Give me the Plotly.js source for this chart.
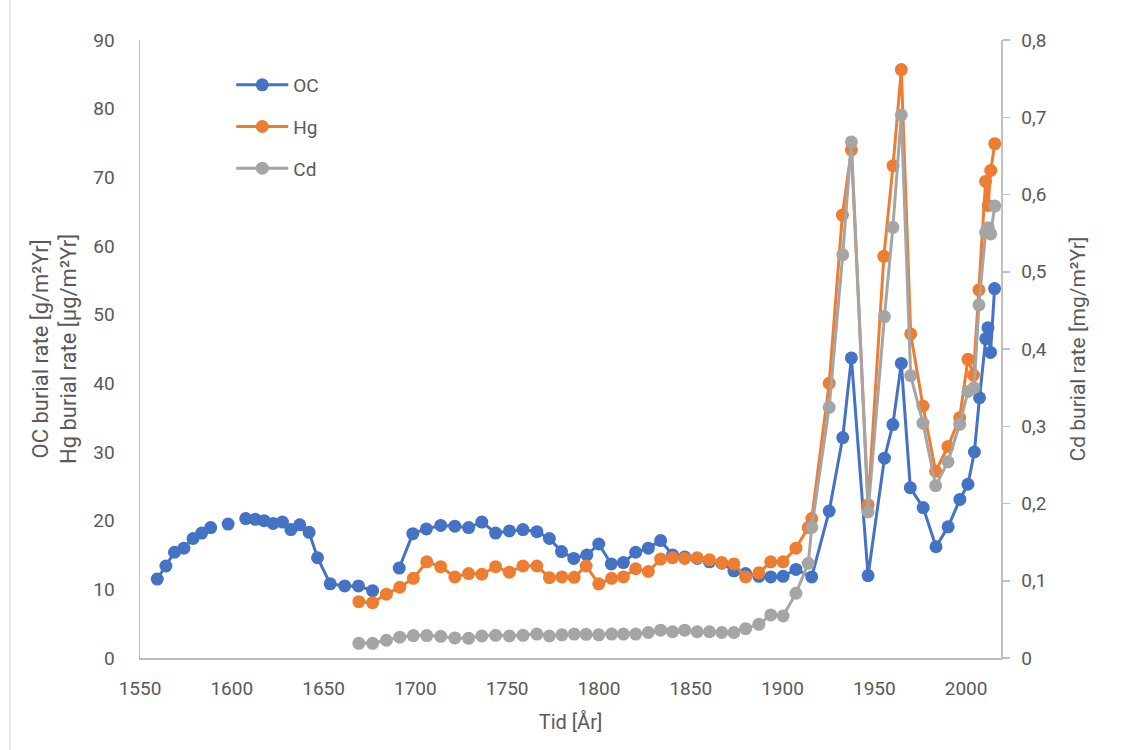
<!DOCTYPE html>
<html>
<head>
<meta charset="utf-8">
<script src="https://cdn.plot.ly/plotly-3.0.1.min.js"></script>
<style>html,body{margin:0;padding:0;background:#fff;}#chart{width:1127px;height:750px;}</style>
</head>
<body>
<div id="chart"></div>
<script>
// OC burial rate [g/m2Yr]
const ocYears = [1559.4,1564.1,1568.8,1573.9,1578.9,1583.6,1588.5,1593.3,1598.0,1602.8,1607.6,1612.8,1617.6,1622.5,1627.6,1632.2,1637.0,1642.1,1646.7,1653.6,1661.5,1669.0,1676.7,1684.2,1691.2,1698.6,1706.0,1713.8,1721.5,1729.0,1736.2,1743.7,1751.2,1758.6,1766.2,1773.0,1779.6,1786.3,1793.4,1799.9,1806.7,1813.3,1820.0,1826.9,1833.6,1840.1,1846.7,1853.5,1860.2,1866.9,1873.5,1879.9,1887.1,1893.6,1900.3,1907.3,1915.9,1925.4,1932.8,1937.5,1946.6,1955.5,1960.1,1964.7,1969.6,1976.6,1983.6,1990.2,1996.6,2001.0,2004.5,2007.3,2010.7,2011.9,2013.3,2015.5];
const ocValues = [11.5,13.4,15.4,16.0,17.4,18.2,19.0,null,19.5,null,20.3,20.2,20.0,19.6,19.8,18.7,19.4,18.3,14.6,10.8,10.5,10.5,9.8,null,13.1,18.1,18.8,19.3,19.2,19.0,19.8,18.2,18.5,18.7,18.4,17.4,15.5,14.5,15.0,16.6,13.7,13.9,15.4,16.0,17.1,15.0,14.7,14.5,14.0,13.8,12.7,12.3,11.9,11.8,11.9,12.9,11.8,21.4,32.1,43.7,12.0,29.1,34.0,42.9,24.8,21.9,16.2,19.1,23.1,25.3,30.0,37.9,46.5,48.1,44.5,53.8];

// Hg burial rate [ug/m2Yr]
const hgYears = [1669.2,1676.7,1684.2,1691.5,1698.9,1706.2,1713.8,1721.5,1729.0,1736.2,1743.7,1751.2,1758.6,1766.2,1773.0,1779.8,1786.5,1793.0,1799.9,1806.9,1813.3,1820.0,1826.9,1833.6,1840.1,1846.7,1853.5,1860.2,1866.9,1873.5,1879.9,1887.1,1893.6,1900.3,1907.3,1914.0,1915.9,1925.4,1932.6,1937.5,1946.6,1955.2,1960.2,1964.7,1969.8,1976.5,1983.4,1990.1,1996.5,2001.0,2004.0,2007.0,2010.6,2012.0,2013.4,2015.6];
const hgValues = [8.2,8.05,9.3,10.3,11.6,14.0,13.3,11.8,12.3,12.2,13.3,12.5,13.4,13.4,11.7,11.8,11.75,13.4,10.8,11.6,11.8,13.0,12.6,14.4,14.6,14.5,14.6,14.3,13.9,13.7,11.8,12.4,14.0,14.0,16.0,19.0,20.3,40.0,64.5,74.0,22.3,58.5,71.7,85.7,47.2,36.7,27.2,30.8,35.0,43.5,41.2,53.6,69.4,65.9,71.0,74.9];

// Cd burial rate [mg/m2Yr]
const cdYears = [1669.2,1676.7,1684.2,1691.5,1698.9,1706.2,1713.8,1721.5,1729.0,1736.2,1743.7,1751.2,1758.6,1766.2,1773.0,1779.8,1786.5,1793.0,1799.9,1806.9,1813.3,1820.0,1826.9,1833.6,1840.1,1846.7,1853.5,1860.2,1866.9,1873.5,1879.9,1887.1,1893.6,1900.3,1907.3,1914.0,1915.9,1925.4,1932.8,1937.5,1946.6,1955.5,1960.1,1964.7,1969.8,1976.5,1983.4,1990.1,1996.5,2001.0,2004.3,2007.0,2010.6,2012.0,2013.4,2015.6];
const cdValues = [0.019,0.019,0.023,0.027,0.029,0.029,0.028,0.026,0.0255,0.0285,0.0294,0.0285,0.0294,0.031,0.0285,0.030,0.031,0.0307,0.030,0.031,0.031,0.031,0.033,0.036,0.034,0.036,0.034,0.034,0.033,0.033,0.038,0.0436,0.0557,0.0544,0.0838,0.1226,0.169,0.3245,0.522,0.668,0.189,0.442,0.5575,0.703,0.3655,0.304,0.223,0.254,0.3025,0.345,0.350,0.457,0.551,0.557,0.549,0.585];

const seriesNames = ['OC','Hg','Cd'];
const seriesColors = ['#4472C4','#ED7D31','#A5A5A5'];

const FONT = 'Roboto, "Open Sans", sans-serif';
const TXT = '#595959';

function mk(i, x, y, axis) {
  return {
    type: 'scatter', mode: 'lines+markers', name: seriesNames[i],
    x: x, y: y, yaxis: axis, legendgroup: seriesNames[i],
    line: {color: seriesColors[i], width: 3},
    marker: {color: seriesColors[i], size: 13, line: {width: 0}},
    connectgaps: false, cliponaxis: false
  };
}

const data = [
  mk(0, ocYears, ocValues, 'y'),
  mk(1, hgYears, hgValues, 'y'),
  mk(2, cdYears, cdValues, 'y2')
];

const layout = {
  width: 1127, height: 750,
  margin: {l: 140, r: 126, t: 40, b: 92},
  paper_bgcolor: '#ffffff', plot_bgcolor: '#ffffff',
  separators: ', ',
  font: {family: FONT, color: TXT, size: 19},
  showlegend: true,
  legend: {x: 0.106, y: 0.958, xanchor: 'left', yanchor: 'top', bgcolor: 'rgba(0,0,0,0)',
           font: {family: FONT, size: 19, color: TXT}, itemwidth: 52, tracegroupgap: 14},
  xaxis: {
    range: [1550, 2019], dtick: 50, tick0: 1550, showgrid: false, zeroline: false,
    showline: true, linecolor: '#bfbfbf', linewidth: 1.5, ticks: '', ticklabelstandoff: 13,
    tickfont: {family: FONT, size: 19, color: TXT},
    title: {text: 'Tid [År]', font: {family: FONT, size: 20, color: TXT}, standoff: 15}
  },
  yaxis: {
    range: [0, 90], dtick: 10, showgrid: false, zeroline: false,
    showline: true, linecolor: '#bfbfbf', linewidth: 1.5, ticks: '', ticklabelstandoff: 20,
    tickfont: {family: FONT, size: 19, color: TXT},
    title: {text: 'OC burial rate [g/m²Yr]<br>Hg burial rate [µg/m²Yr]', font: {family: FONT, size: 22, color: TXT}, standoff: 10}
  },
  yaxis2: {
    overlaying: 'y', side: 'right', range: [0, 0.8], dtick: 0.1, showgrid: false, zeroline: false,
    showline: true, linecolor: '#bfbfbf', linewidth: 1.5, ticks: 'outside', ticklen: 7, tickcolor: '#bfbfbf', tickwidth: 1.5,
    ticklabelstandoff: 8,
    tickfont: {family: FONT, size: 19, color: TXT},
    title: {text: 'Cd burial rate [mg/m²Yr]', font: {family: FONT, size: 21, color: TXT}, standoff: 24}
  },
  shapes: [
    {type: 'line', xref: 'paper', yref: 'paper', x0: -0.151, x1: -0.151, y0: -0.2, y1: 1.1,
     line: {color: '#d9d9d9', width: 1}}
  ]
};

Plotly.newPlot('chart', data, layout, {displayModeBar: false, staticPlot: true});
</script>
</body>
</html>
